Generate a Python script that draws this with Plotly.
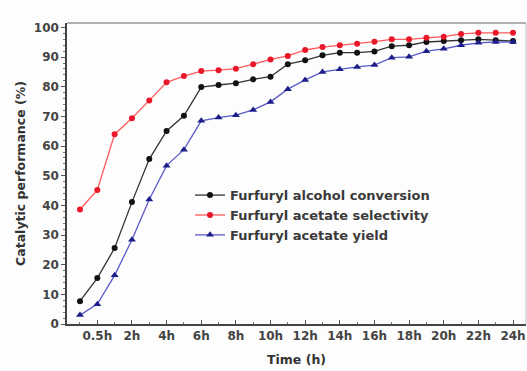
import plotly.graph_objects as go

categories = ["", "0.5h", "1h", "2h", "3h", "4h", "5h", "6h", "7h", "8h", "9h", "10h", "11h", "12h",
              "13h", "14h", "15h", "16h", "17h", "18h", "19h", "20h", "21h", "22h", "23h", "24h"]
conversion = [7.7, 15.5, 25.6, 41.1, 55.6, 65.1, 70.2, 79.9, 80.6, 81.2, 82.5, 83.4, 87.6,
              88.9, 90.6, 91.5, 91.5, 91.9, 93.7, 94.0, 95.1, 95.4, 95.7, 96.0, 95.7, 95.4]
selectivity = [38.6, 45.2, 64.0, 69.4, 75.4, 81.5, 83.6, 85.3, 85.6, 86.1, 87.6, 89.2, 90.4,
               92.4, 93.4, 94.0, 94.5, 95.2, 96.0, 96.0, 96.5, 96.9, 97.8, 98.2, 98.2, 98.2]
yield_ = [3.0, 6.7, 16.4, 28.4, 42.0, 53.4, 58.8, 68.5, 69.6, 70.4, 72.2, 74.9, 79.2,
          82.3, 85.0, 85.9, 86.7, 87.3, 89.8, 90.1, 92.0, 92.8, 94.0, 94.8, 95.1, 95.1]
tick_labels = ["0.5h", "2h", "4h", "6h", "8h", "10h", "12h", "14h", "16h", "18h", "20h", "22h", "24h"]
series_names = ["Furfuryl alcohol conversion", "Furfuryl acetate selectivity", "Furfuryl acetate yield"]

x = list(range(len(categories)))
tick_vals = [categories.index(t) for t in tick_labels]

fig = go.Figure()
fig.add_trace(go.Scatter(x=x, y=conversion, name=series_names[0], mode="lines+markers",
                         line=dict(color="#333333", width=1.3),
                         marker=dict(symbol="circle", size=6, color="#111111")))
fig.add_trace(go.Scatter(x=x, y=selectivity, name=series_names[1], mode="lines+markers",
                         line=dict(color="#ff5a5a", width=1.3),
                         marker=dict(symbol="circle", size=6, color="#e8182a")))
fig.add_trace(go.Scatter(x=x, y=yield_, name=series_names[2], mode="lines+markers",
                         line=dict(color="#5a5ac8", width=1.3),
                         marker=dict(symbol="triangle-up", size=7, color="#1e1e8a")))

font_family = "DejaVu Sans, sans-serif"
fig.update_layout(
    width=527, height=371,
    margin=dict(l=67, r=1, t=23, b=47),
    paper_bgcolor="#fdfdfd", plot_bgcolor="#fdfdfd",
    font=dict(family=font_family, size=12, color="#333333"),
    showlegend=True,
    legend=dict(x=0.268, y=0.478, xanchor="left", yanchor="top",
                bgcolor="rgba(0,0,0,0)", tracegroupgap=0,
                font=dict(family=font_family, size=13, color="#3a3a3a", weight="bold"),
                itemwidth=30),
)
fig.update_xaxes(
    range=[-0.75, 25.75],
    tickmode="array", tickvals=tick_vals, ticktext=tick_labels,
    ticks="inside", ticklen=4, tickcolor="#555555",
    minor=dict(tickmode="array", tickvals=x, ticks="inside", ticklen=2, tickcolor="#777777"),
    showline=True, linecolor="#444444", linewidth=1.5, mirror=False,
    showgrid=False, zeroline=False,
    tickfont=dict(family=font_family, size=12, color="#444444", weight="bold"),
    title=dict(text="Time (h)", font=dict(family=font_family, size=12.5, color="#333333", weight="bold"),
               standoff=13),
)
fig.update_yaxes(
    range=[0, 101.5],
    tickmode="array", tickvals=list(range(0, 101, 10)),
    ticks="outside", ticklen=4, tickcolor="#555555",
    minor=dict(dtick=2, ticks="outside", ticklen=2, tickcolor="#777777"),
    showline=True, linecolor="#444444", linewidth=1.5,
    showgrid=False, zeroline=False,
    tickfont=dict(family=font_family, size=12, color="#444444", weight="bold"),
    title=dict(text="Catalytic performance (%)", font=dict(family=font_family, size=12.5, color="#333333", weight="bold"),
               standoff=5),
)
# top and right frame lines
fig.add_shape(type="line", xref="paper", yref="paper", x0=0, x1=1, y0=1, y1=1,
              line=dict(color="#666666", width=1.2))
fig.add_shape(type="line", xref="paper", yref="paper", x0=1, x1=1, y0=0, y1=1,
              line=dict(color="#bbbbbb", width=1))

fig.write_html("out.html")
